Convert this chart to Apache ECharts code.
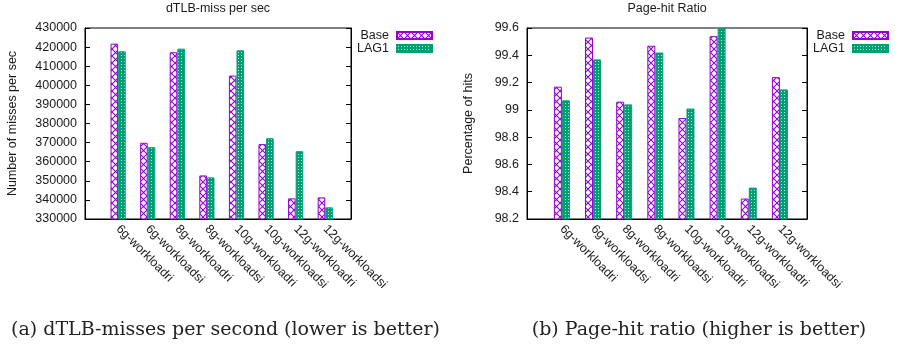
<!DOCTYPE html>
<html><head><meta charset="utf-8">
<script src="https://cdn.jsdelivr.net/npm/echarts@6/dist/echarts.min.js"></script>
<style>html,body{margin:0;padding:0;background:#fff}#c{width:900px;height:350px}</style>
</head><body><div id="c"></div>
<script>
// ---- data ----
const categories = ['6g-workloadri','6g-workloadsi','8g-workloadri','8g-workloadsi','10g-workloadri','10g-workloadsi','12g-workloadri','12g-workloadsi'];
const seriesNames = ['Base','LAG1'];
const dtlbBase = [421800,369900,417300,352800,405100,369200,340800,341300];
const dtlbLag1 = [417800,367600,419200,351800,418300,372300,365500,336100];
const hitBase = [99.17,99.53,99.06,99.47,98.94,99.54,98.35,99.24];
const hitLag1 = [99.07,99.37,99.04,99.42,99.01,99.60,98.43,99.15];
const dtlbAxis = {min:330000, max:430000, interval:10000};
const hitAxis = {min:98.2, max:99.6, interval:0.2};
const chartTitles = ['dTLB-miss per sec','Page-hit Ratio'];
const yNames = ['Number of misses per sec','Percentage of hits'];
const captions = ['(a) dTLB-misses per second (lower is better)','(b) Page-hit ratio (higher is better)'];

// ---- style ----
const PURPLE = '#9400d3';
const GREEN = '#009e73';
const SANS = 'Liberation Sans';
const FS = 12.5;
const TXT = '#1a1a1a';

function basePattern(){
  const c = document.createElement('canvas'); c.width = 7; c.height = 7;
  const g = c.getContext('2d');
  g.fillStyle = '#fff'; g.fillRect(0,0,7,7);
  g.strokeStyle = PURPLE; g.lineWidth = 1.1;
  g.beginPath(); g.moveTo(0,0); g.lineTo(7,7); g.moveTo(7,0); g.lineTo(0,7); g.stroke();
  return {image:c, repeat:'repeat'};
}
function lagPattern(){
  const c = document.createElement('canvas'); c.width = 3; c.height = 3;
  const g = c.getContext('2d');
  g.fillStyle = GREEN; g.fillRect(0,0,3,3);
  g.fillStyle = 'rgba(255,255,255,0.75)'; g.fillRect(1,1,1,1);
  return {image:c, repeat:'repeat'};
}
const patBase = basePattern(), patLag = lagPattern();

const grids = [
  {left:85, top:28, width:266, height:191, show:true, borderColor:'#000', borderWidth:1},
  {left:527, top:28, width:280, height:191, show:true, borderColor:'#000', borderWidth:1}
];
const catIdx = categories.map((_, i) => i);

function xAx(gi){
  return {type:'value', gridIndex:gi, min:-1.12, max:7.87,
    splitLine:{show:false}, axisTick:{show:false},
    axisLine:{show:true, onZero:false, lineStyle:{color:'#000', width:1}},
    axisLabel:{customValues:catIdx, formatter:v => categories[Math.round(v)] || '',
      rotate:-45, margin:8, fontSize:FS, fontFamily:SANS, color:TXT}};
}
function yAx(gi, ax, name, gap, fmt){
  return [{type:'value', gridIndex:gi, position:'left', min:ax.min, max:ax.max, interval:ax.interval,
    splitLine:{show:false},
    axisLine:{show:true, onZero:false, lineStyle:{color:'#000'}},
    axisTick:{show:true, inside:true, length:5, lineStyle:{color:'#000'}},
    axisLabel:{margin:8, fontSize:FS, fontFamily:SANS, color:TXT, formatter:fmt},
    name:name, nameLocation:'middle', nameRotate:90, nameGap:gap,
    nameTextStyle:{fontSize:FS, fontFamily:SANS, color:TXT}},
   {type:'value', gridIndex:gi, position:'right', min:ax.min, max:ax.max, interval:ax.interval,
    splitLine:{show:false},
    axisLine:{show:true, onZero:false, lineStyle:{color:'#000'}},
    axisTick:{show:true, inside:true, length:5, lineStyle:{color:'#000'}},
    axisLabel:{show:false}}];
}
function bars(gi, name, vals, pat, col, bw){
  return {type:'bar', name:name, xAxisIndex:gi, yAxisIndex:gi*2,
    data: vals.map((v, i) => [i, v]), barWidth:bw, barGap:'0%',
    itemStyle:{color:pat, borderColor:col, borderWidth:1}, emphasis:{disabled:true}};
}
function legend(right){
  return {orient:'vertical', align:'right', right:right, top:24, itemWidth:35, itemHeight:7, itemGap:0,
    icon:'rect', data:seriesNames,
    textStyle:{fontSize:FS, fontFamily:SANS, color:TXT, width:33, align:'right', lineHeight:13, padding:[0,3,0,0]}};
}

const chart = echarts.init(document.getElementById('c'));
chart.setOption({
  animation:false,
  grid:grids,
  xAxis:[xAx(0), xAx(1)],
  yAxis:[...yAx(0, dtlbAxis, yNames[0], 66, v => String(v)), ...yAx(1, hitAxis, yNames[1], 52, v => String(Math.round(v*10)/10))],
  legend:[legend(462), legend(6)],
  series:[
    bars(0, seriesNames[0], dtlbBase, patBase, PURPLE, 7.6),
    bars(0, seriesNames[1], dtlbLag1, patLag, GREEN, 7.6),
    bars(1, seriesNames[0], hitBase, patBase, PURPLE, 8),
    bars(1, seriesNames[1], hitLag1, patLag, GREEN, 8)
  ],
  graphic:[
    {type:'text', x:218, y:9, style:{text:chartTitles[0], fontSize:FS, fontFamily:SANS, fill:TXT, textAlign:'center', textVerticalAlign:'middle'}},
    {type:'text', x:667, y:9, style:{text:chartTitles[1], fontSize:FS, fontFamily:SANS, fill:TXT, textAlign:'center', textVerticalAlign:'middle'}},
    {type:'text', x:225.5, y:330, style:{text:captions[0], fontSize:19, fontFamily:'DejaVu Serif', fill:'#222', textAlign:'center', textVerticalAlign:'middle'}},
    {type:'text', x:699, y:330, style:{text:captions[1], fontSize:19, fontFamily:'DejaVu Serif', fill:'#222', textAlign:'center', textVerticalAlign:'middle'}}
  ]
});
</script></body></html>
